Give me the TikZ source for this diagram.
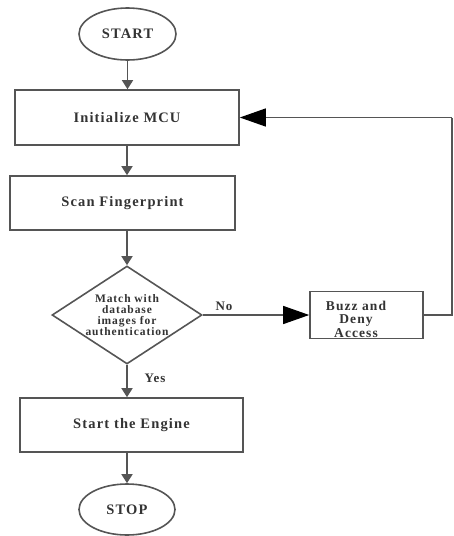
\documentclass[tikz,border=0pt]{standalone}
\usepackage{fontspec}
\setmainfont{Liberation Serif}[LetterSpace=8]
\usetikzlibrary{shapes.geometric,arrows.meta}
\definecolor{ln}{HTML}{555555}
\definecolor{tx}{HTML}{333333}
\tikzset{
  box/.style={draw=ln, line width=1.6pt, rectangle, inner sep=0pt},
  oval/.style={draw=ln, line width=1.6pt, ellipse, inner sep=0pt},
  dia/.style={draw=ln, line width=1.6pt, diamond, inner sep=0pt},
  txt/.style={text=tx, font=\bfseries\fontsize{14.5}{15}\selectfont, align=center},
  smalltxt/.style={text=tx, font=\bfseries\fontsize{11.5}{11}\selectfont, align=center},
  arr/.style={draw=ln, line width=1.6pt, -{Triangle[length=9pt,width=11pt]}},
  bigarr/.style={draw=ln, line width=1.2pt, -{Triangle[length=26pt,width=18pt,color=black]}},
  plain/.style={draw=ln, line width=1.2pt},
}
\begin{document}
\begin{tikzpicture}[x=1pt,y=-1pt]
\useasboundingbox (0,0) rectangle (454,536);
\node[oval, minimum width=97pt, minimum height=52pt] (start) at (127.5,34) {};
\node[txt] (starttext) at (start) {START};
\node[box, minimum width=224pt, minimum height=55pt] (init) at (127,117.5) {};
\node[txt] (inittext) at (init) {Initialize MCU};
\node[box, minimum width=225pt, minimum height=54pt] (scan) at (122.5,203) {};
\node[txt] (scantext) at (scan) {Scan Fingerprint};
\node[dia, minimum width=150pt, minimum height=98pt] (match) at (127,315) {};
\node[smalltxt] (matchtext) at (match) {Match with\\database\\images for\\authentication};
\node[box, minimum width=113pt, minimum height=47pt] (buzz) at (366.5,315) {};
\node[txt, font=\bfseries\fontsize{13.5}{13.5}\selectfont] (buzztext) at (356,319) {Buzz and\\Deny\\Access};
\node[box, minimum width=223pt, minimum height=54pt] (engine) at (131.5,425) {};
\node[txt] (enginetext) at (engine) {Start the Engine};
\node[oval, minimum width=96pt, minimum height=51pt] (stop) at (127,509.5) {};
\node[txt] (stoptext) at (stop) {STOP};
\node[smalltxt, font=\bfseries\fontsize{13}{13}\selectfont] (no) at (224,306) {No};
\node[smalltxt, font=\bfseries\fontsize{13}{13}\selectfont] (yes) at (155,378) {Yes};
\coordinate (rb) at (452,315);
\coordinate (rt) at (452,117.5);
\draw[arr] (start.south) -- (start.south |- init.north);
\draw[arr] (init.south) -- (init.south |- scan.north);
\draw[arr] (match.north |- scan.south) -- (match.north);
\draw[arr] (match.south) -- (match.south |- engine.north);
\draw[arr] (stop.north |- engine.south) -- (stop.north);
\draw[bigarr] (match.east) -- (buzz.west);
\draw[plain] (buzz.east) -- (rb) -- (rt);
\draw[bigarr] (rt) -- (init.east);
\end{tikzpicture}
\end{document}
